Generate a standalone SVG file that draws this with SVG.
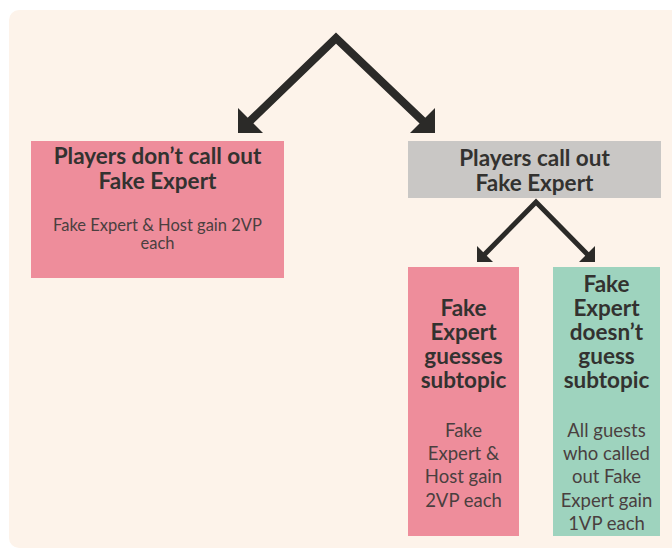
<svg xmlns="http://www.w3.org/2000/svg" width="672" height="549" viewBox="0 0 672 549">
  <style>
    .title { font-family: Lato, "Liberation Sans", sans-serif; font-weight: bold; fill: #333230; text-anchor: middle; font-size: 22.5px; }
    .sub { font-family: Lato, "Liberation Sans", sans-serif; fill: #4a3f3f; text-anchor: middle; font-size: 18.5px; }
    .conn { fill: none; stroke: #2b2a28; stroke-linejoin: miter; }
    .head { fill: #2b2a28; }
  </style>
  <rect x="0" y="0" width="672" height="549" fill="#ffffff"/>
  <rect x="9" y="10" width="680" height="538" rx="10" fill="#fdf3ea"/>

  <g id="connectors">
    <path class="conn" stroke-width="8" d="M247,124 L336,38 L426,124"/>
    <polygon class="head" points="238,108 238,133 263,133"/>
    <polygon class="head" points="435,108 435,133 410,133"/>
    <path class="conn" stroke-width="5" d="M483,256 L536,202 L589,256"/>
    <polygon class="head" points="477,246 477,262 493,262"/>
    <polygon class="head" points="595,246 595,262 579,262"/>
  </g>

  <g id="node-no-callout">
    <rect x="31" y="141" width="253" height="137" fill="#ee8d9b"/>
    <text class="title" x="157.5" y="164">Players don’t call out<tspan x="157.5" dy="25">Fake Expert</tspan></text>
    <text class="sub" style="font-size:16.5px" x="157.5" y="231">Fake Expert &amp; Host gain 2VP<tspan x="157.5" dy="18">each</tspan></text>
  </g>

  <g id="node-callout">
    <rect x="408" y="141" width="253" height="57" fill="#c9c7c5"/>
    <text class="title" x="534.5" y="166">Players call out<tspan x="534.5" dy="25">Fake Expert</tspan></text>
  </g>

  <g id="node-guesses">
    <rect x="408" y="267" width="111" height="269" fill="#ee8d9b"/>
    <text class="title" x="463.5" y="316">Fake<tspan x="463.5" dy="24">Expert</tspan><tspan x="463.5" dy="24">guesses</tspan><tspan x="463.5" dy="24">subtopic</tspan></text>
    <text class="sub" x="463.5" y="437">Fake<tspan x="463.5" dy="23">Expert &amp;</tspan><tspan x="463.5" dy="23">Host gain</tspan><tspan x="463.5" dy="24">2VP each</tspan></text>
  </g>

  <g id="node-not-guess">
    <rect x="553" y="267" width="107" height="269" fill="#9ed3be"/>
    <text class="title" x="606.5" y="292">Fake<tspan x="606.5" dy="24">Expert</tspan><tspan x="606.5" dy="24">doesn’t</tspan><tspan x="606.5" dy="24">guess</tspan><tspan x="606.5" dy="24">subtopic</tspan></text>
    <text class="sub" x="606.5" y="437">All guests<tspan x="606.5" dy="23">who called</tspan><tspan x="606.5" dy="23">out Fake</tspan><tspan x="606.5" dy="24">Expert gain</tspan><tspan x="606.5" dy="23">1VP each</tspan></text>
  </g>
</svg>
